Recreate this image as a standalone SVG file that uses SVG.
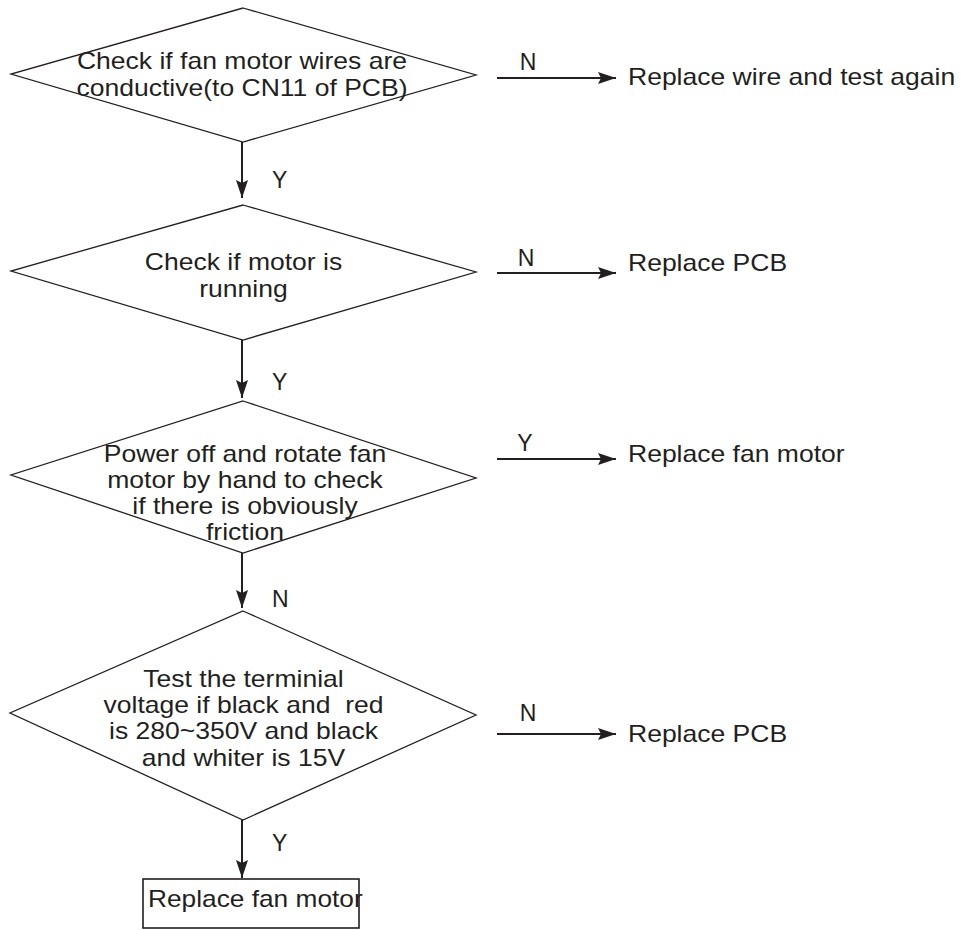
<svg xmlns="http://www.w3.org/2000/svg" width="961" height="930" viewBox="0 0 961 930">
<defs>
<style>
.shape{fill:#ffffff;stroke:#231f20;stroke-width:1.3}
.box{fill:#ffffff;stroke:#231f20;stroke-width:1.6}
.conn{stroke:#231f20;stroke-width:2;fill:none;marker-end:url(#ah)}
text{font-family:"Liberation Sans",Arial,sans-serif;font-size:24px;fill:#231f20}
.c{text-anchor:middle}
.lbl{font-size:23px}
</style>
<marker id="ah" markerUnits="userSpaceOnUse" markerWidth="18" markerHeight="12" viewBox="0 0 18 12" refX="18" refY="6" orient="auto">
<path d="M0,0 L18,6 L0,12 L3,6 z" fill="#231f20"/>
</marker>
</defs>
<rect width="961" height="930" fill="#ffffff"/>

<g id="connectors">
<line class="conn" x1="242" y1="142" x2="242" y2="198"/>
<line class="conn" x1="242" y1="340" x2="242" y2="398"/>
<line class="conn" x1="242" y1="553" x2="242" y2="608"/>
<line class="conn" x1="242" y1="820" x2="242" y2="878"/>
<line class="conn" x1="497" y1="78" x2="616" y2="78"/>
<line class="conn" x1="497" y1="273" x2="616" y2="273"/>
<line class="conn" x1="497" y1="459" x2="616" y2="459"/>
<line class="conn" x1="497" y1="734" x2="616" y2="734"/>
<text class="lbl" x="272" y="188">Y</text>
<text class="lbl" x="272" y="390">Y</text>
<text class="lbl" x="272" y="607">N</text>
<text class="lbl" x="272" y="851">Y</text>
<text class="lbl c" x="528" y="70">N</text>
<text class="lbl c" x="526" y="266">N</text>
<text class="lbl c" x="525" y="451">Y</text>
<text class="lbl c" x="528" y="721">N</text>
</g>

<g id="d1">
<polygon class="shape" points="243,8 476,75 243,142 11,74"/>
<g transform="translate(242 0) scale(1.105 1) translate(-242 0)">
<text class="c" x="242" y="69.5">Check if fan motor wires are</text>
<text class="c" x="242" y="96.5">conductive(to CN11 of PCB)</text>
</g>
</g>

<g id="d2">
<polygon class="shape" points="243,205 476,272 243,340 11,271"/>
<g transform="translate(243.5 0) scale(1.105 1) translate(-243.5 0)">
<text class="c" x="243.5" y="270">Check if motor is</text>
<text class="c" x="243.5" y="297">running</text>
</g>
</g>

<g id="d3">
<polygon class="shape" points="243,401 476,478 243,553 11,475"/>
<g transform="translate(245 0) scale(1.105 1) translate(-245 0)">
<text class="c" x="245" y="462">Power off and rotate fan</text>
<text class="c" x="245" y="488">motor by hand to check</text>
<text class="c" x="245" y="514">if there is obviously</text>
<text class="c" x="245" y="540">friction</text>
</g>
</g>

<g id="d4">
<polygon class="shape" points="243,611 476,715 243,820 10,713"/>
<g transform="translate(243.5 0) scale(1.105 1) translate(-243.5 0)">
<text class="c" x="243.5" y="687">Test the terminial</text>
<text class="c" x="243.5" y="713" xml:space="preserve" style="white-space:pre">voltage if black and  red</text>
<text class="c" x="243.5" y="739">is 280~350V and black</text>
<text class="c" x="243.5" y="766">and whiter is 15V</text>
</g>
</g>

<g id="r1">
<g transform="translate(628 0) scale(1.105 1) translate(-628 0)">
<text x="628" y="85">Replace wire and test again</text>
</g>
</g>

<g id="r2">
<g transform="translate(628 0) scale(1.105 1) translate(-628 0)">
<text x="628" y="271">Replace PCB</text>
</g>
</g>

<g id="r3">
<g transform="translate(628 0) scale(1.105 1) translate(-628 0)">
<text x="628" y="462.5">Replace fan motor</text>
</g>
</g>

<g id="r4">
<g transform="translate(628 0) scale(1.105 1) translate(-628 0)">
<text x="628" y="742">Replace PCB</text>
</g>
</g>

<g id="end">
<rect class="box" x="143" y="879" width="216" height="49"/>
<g transform="translate(148 0) scale(1.095 1) translate(-148 0)">
<text x="148" y="907">Replace fan motor</text>
</g>
</g>
</svg>
